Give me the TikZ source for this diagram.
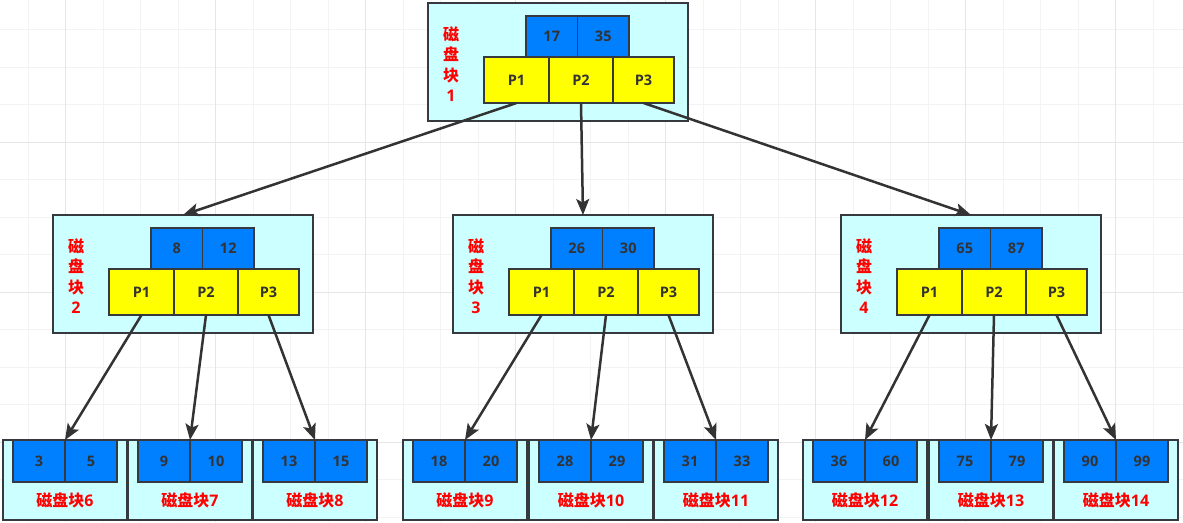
\documentclass[tikz,border=0pt]{standalone}
\usepackage{fontspec}
\setmainfont{Open Sans}
\newfontfamily\cjk{Noto Sans CJK SC}
\usetikzlibrary{arrows.meta}
\definecolor{cyanbg}{HTML}{CCFFFF}
\definecolor{keyblue}{HTML}{007FFF}
\definecolor{ptryel}{HTML}{FFFF00}
\definecolor{edgegray}{HTML}{36393D}
\definecolor{txt}{HTML}{333333}
\definecolor{lblred}{HTML}{FF0000}
\definecolor{gridminor}{HTML}{F3F3F3}
\definecolor{gridmajor}{HTML}{E6E6E6}
\tikzset{
  box/.style={draw=edgegray, line width=1.2pt, anchor=north west, inner sep=0pt, outer sep=0pt,
    font=\fontsize{14.5}{16}\selectfont\bfseries, text=txt},
  cont/.style={box, fill=cyanbg},
  keybox/.style={box, fill=keyblue, minimum width=51.5, minimum height=41},
  ptrbox/.style={box, fill=ptryel, minimum height=46},
  lbl/.style={text=lblred, font=\fontsize{16}{20.5}\selectfont\bfseries, inner sep=0pt, align=center},
  arr/.style={draw=txt, line width=2.5pt, -{Stealth[length=16pt,width=13pt,inset=3.5pt]}},
}
\newcommand\innode[6]{%
  \node[cont, minimum width=260, minimum height=118] (#1) at (#2,#3) {};
  \node[keybox] (#1k1) at (#2+98,#3+13) {#4};
  \node[keybox] (#1k2) at (#2+149.5,#3+13) {#5};
  \node[ptrbox, minimum width=65] (#1p1) at (#2+56,#3+54) {P1};
  \node[ptrbox, minimum width=64] (#1p2) at (#2+121,#3+54) {P2};
  \node[ptrbox, minimum width=61] (#1p3) at (#2+185,#3+54) {P3};
  \node[lbl] (#1lbl) at (#2+23,#3+61) {{\cjk 磁}\\{\cjk 盘}\\{\cjk 块}\\#6};
}
\newcommand\leafnode[5]{%
  \node[cont, minimum width=124, minimum height=80] (#1) at (#2,440) {};
  \node[keybox, minimum width=52, minimum height=42] (#1k1) at (#2+10,440) {#3};
  \node[keybox, minimum width=52, minimum height=42] (#1k2) at (#2+62,440) {#4};
  \node[lbl] (#1lbl) at (#2+62,500) {{\cjk 磁盘块}#5};
}
\begin{document}
\begin{tikzpicture}[x=1pt,y=-1pt]
\useasboundingbox (0,0) rectangle (1183,522);
\fill[white] (0,0) rectangle (1183,522);
% grid
\foreach \i in {0,...,31} {\draw[gridminor, line width=0.8pt] (28.2+37.5*\i,0) -- (28.2+37.5*\i,522);}
\foreach \i in {0,...,13} {\draw[gridminor, line width=0.8pt] (0,29.8+37.5*\i) -- (1183,29.8+37.5*\i);}
\foreach \i in {0,...,7} {\draw[gridmajor, line width=0.8pt] (65.7+150*\i,0) -- (65.7+150*\i,522);}
\foreach \i in {1,...,3} {\draw[gridmajor, line width=0.8pt] (0,-7.7+150*\i) -- (1183,-7.7+150*\i);}
% nodes
\innode{t}{428}{3}{17}{35}{1}
\innode{b2}{53}{215}{8}{12}{2}
\innode{b3}{453}{215}{26}{30}{3}
\innode{b4}{841}{215}{65}{87}{4}
\leafnode{l6}{3}{3}{5}{6}
\leafnode{l7}{128}{9}{10}{7}
\leafnode{l8}{253}{13}{15}{8}
\leafnode{l9}{403}{18}{20}{9}
\leafnode{l10}{529}{28}{29}{10}
\leafnode{l11}{654}{31}{33}{11}
\leafnode{l12}{803}{36}{60}{12}
\leafnode{l13}{929}{75}{79}{13}
\leafnode{l14}{1054}{90}{99}{14}
% connectors
\draw[arr] (tp1.south) -- (b2.north);
\draw[arr] (tp2.south) -- (b3.north);
\draw[arr] (tp3.south) -- (b4.north);
\draw[arr] (b2p1.south) -- (l6.north);
\draw[arr] (b2p2.south) -- (l7.north);
\draw[arr] (b2p3.south) -- (l8.north);
\draw[arr] (b3p1.south) -- (l9.north);
\draw[arr] (b3p2.south) -- (l10.north);
\draw[arr] (b3p3.south) -- (l11.north);
\draw[arr] (b4p1.south) -- (l12.north);
\draw[arr] (b4p2.south) -- (l13.north);
\draw[arr] (b4p3.south) -- (l14.north);
\end{tikzpicture}
\end{document}
